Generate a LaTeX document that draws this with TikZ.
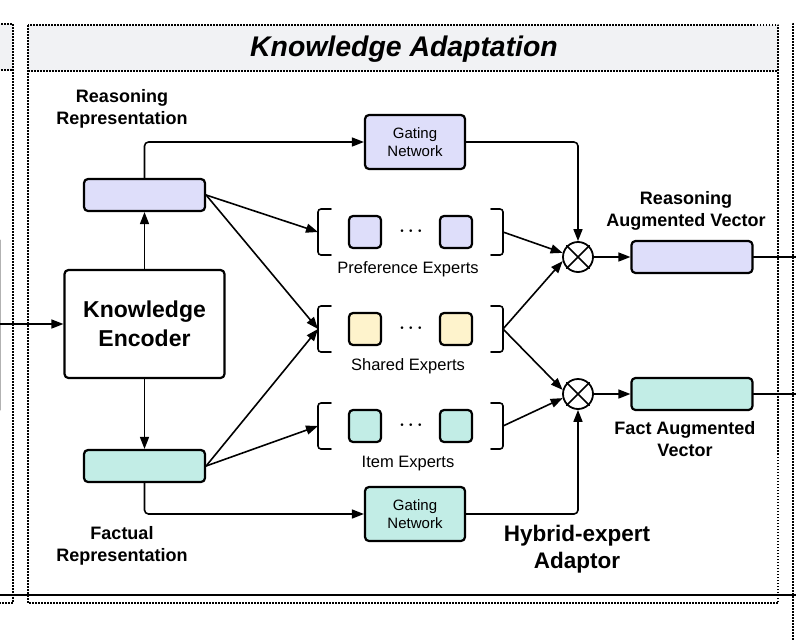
\documentclass[tikz,border=0pt]{standalone}
\usepackage{fontspec}
\setmainfont{Liberation Sans}
\usetikzlibrary{arrows.meta,positioning}
\definecolor{lavend}{RGB}{222,222,250}
\definecolor{mintc}{RGB}{194,237,230}
\definecolor{creamc}{RGB}{254,243,204}
\definecolor{hdrgray}{RGB}{241,242,244}
\newcommand{\fsz}[2]{\fontsize{#1}{#2}\selectfont}
\begin{document}
\begin{tikzpicture}[x=1pt,y=-1pt,>={Triangle[length=12pt,width=9pt]},line join=round,line cap=round,
	box/.style={draw,line width=2.2pt,rounded corners=4pt,inner sep=0pt},
	rep/.style={box,minimum width=121pt,minimum height=32pt},
	gate/.style={box,minimum width=100pt,minimum height=54pt,align=center,font=\fsz{15}{18}},
	expert/.style={box,minimum size=32pt},
	lbl/.style={align=center,inner sep=0pt,font=\fsz{18}{22}\bfseries},
	conn/.style={line width=1.6pt,rounded corners=4pt},
	dotframe/.style={line width=1.5pt,dash pattern=on 1.5pt off 1.5pt,line cap=butt},
	prod/.style={draw,circle,line width=1.8pt,minimum size=30pt,inner sep=0pt}]
	\useasboundingbox (0,0) rectangle (796,640);
	% frames
	\fill[hdrgray] (28,25) rectangle (778,71);
	\fill[hdrgray] (-2,24) rectangle (13,70);
	\draw[dotframe] (-2,24) -- (13,24) -- (13,603) -- (-2,603) (-2,70) -- (13,70);
	\draw[dotframe] (28,25) rectangle (778,603) (28,71) -- (778,71);
	\draw[dotframe] (800,24) -- (793,24) -- (793,642);
	\draw[line width=1.4pt,line cap=butt] (0,595) -- (796,595);
	\draw[gray!60,line width=1pt] (0.5,240) -- (0.5,410);
	\node[font=\fsz{28.4}{32}\bfseries\itshape,anchor=base] (title) at (404,56) {Knowledge Adaptation};
	% encoder and representations
	\node[box,minimum width=160pt,minimum height=108pt,align=center,font=\fsz{23}{29}\bfseries] (enc) at (144.5,324) {Knowledge\\Encoder};
	\node[rep,fill=lavend] (rrep) at (144.5,195) {};
	\node[rep,fill=mintc] (frep) at (144.5,466) {};
	\node[lbl] (rlab) at (122,108.5) {Reasoning\\Representation};
	\node[lbl] (flab) at (122,546) {Factual\\Representation};
	% gates, products, outputs
	\node[gate,fill=lavend] (gtop) at (415,142) {Gating\\Network};
	\node[gate,fill=mintc] (gbot) at (415,514) {Gating\\Network};
	\node[prod] (ptop) at (578,257) {};
	\node[prod] (pbot) at (578,394) {};
	\foreach \p in {ptop,pbot}
		\draw[line width=1.6pt] (\p.45) -- (\p.225) (\p.135) -- (\p.315);
	\node[rep,fill=lavend] (rvec) at (692,257) {};
	\node[rep,fill=mintc] (fvec) at (692,394) {};
	\node[lbl] (rvlab) at (686,210.5) {Reasoning\\Augmented Vector};
	\node[lbl] (fvlab) at (685,439.5) {Fact Augmented\\Vector};
	\node[lbl,font=\fsz{22.5}{27}\bfseries] (hlab) at (577,549) {Hybrid-expert\\Adaptor};
	% expert groups
	\foreach \n/\y/\c/\t in {pe/232/lavend/Preference Experts,se/329/creamc/Shared Experts,ie/426/mintc/Item Experts}{
		\node[expert,fill=\c] (\n1) at (365,\y) {};
		\node[expert,fill=\c] (\n2) at (456,\y) {};
		\node[font=\fsz{18}{20}\boldmath] (\n dots) at (411,\y-1) {$\cdots$};
		\draw[conn,rounded corners=3pt] (331,\y-23) -- (318,\y-23) -- (318,\y+23) -- (331,\y+23);
		\draw[conn,rounded corners=3pt] (491,\y-23) -- (503,\y-23) -- (503,\y+23) -- (491,\y+23);
		\coordinate (\n in) at (318,\y);
		\coordinate (\n out) at (503,\y);
		\node[font=\fsz{16.5}{20},anchor=base] (\n lab) at (408,\y+41) {\t};
	}
	% connectors
	\path (0,324) coordinate (lin)
		(796,257) coordinate (rout)
		(796,394) coordinate (fout);
	\draw[conn,->] (lin) -- (enc.west);
	\draw[conn,->] (enc.north) -- (rrep.south);
	\draw[conn,->] (enc.south) -- (frep.north);
	\draw[conn,->] (rrep.north) |- (gtop.west);
	\draw[conn,->] (frep.south) |- (gbot.west);
	\draw[conn,->] (rrep.east) -- (pein);
	\draw[conn,->] (rrep.east) -- (sein);
	\draw[conn,->] (frep.east) -- (sein);
	\draw[conn,->] (frep.east) -- (iein);
	\draw[conn,->] (peout) -- (ptop.165);
	\draw[conn,->] (seout) -- (ptop.195);
	\draw[conn,->] (seout) -- (pbot.165);
	\draw[conn,->] (ieout) -- (pbot.195);
	\draw[conn,->] (gtop.east) -| (ptop.north);
	\draw[conn,->] (gbot.east) -| (pbot.south);
	\draw[conn,->] (ptop.east) -- (rvec.west);
	\draw[conn,->] (pbot.east) -- (fvec.west);
	\draw[conn] (rvec.east) -- (rout);
	\draw[conn] (fvec.east) -- (fout);
\end{tikzpicture}
\end{document}
